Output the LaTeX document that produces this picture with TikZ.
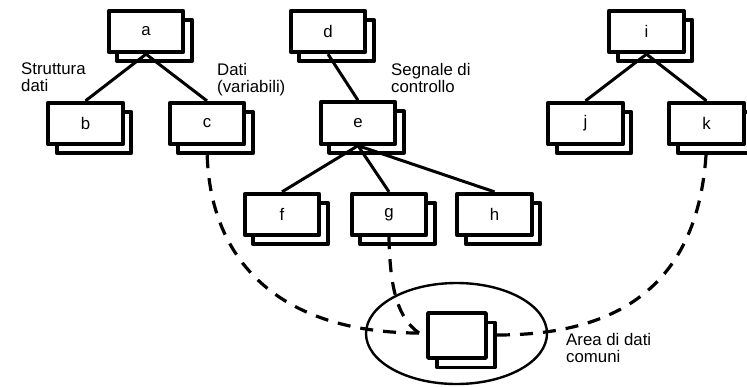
\documentclass[tikz,border=0pt]{standalone}
\usepackage{fontspec}
\setmainfont{Liberation Sans}
\usetikzlibrary{calc,shapes.geometric}
\tikzset{
  boxbase/.style={draw, line width=3.8pt, fill=white, line join=round, inner sep=0pt,
    minimum width=74.5pt, minimum height=41.5pt},
  frontbox/.style={boxbase, font=\fontsize{16.8}{17}\selectfont},
  backbox/.style={boxbase},
  link/.style={line width=3pt},
  dlink/.style={line width=3.2pt, dash pattern=on 13pt off 10pt},
  lbl/.style={anchor=north west, inner sep=0pt, align=left, font=\fontsize{16.8}{17}\selectfont},
}
\newcommand\stackbox[3]{%
  \node[backbox] (#1b) at ($(#2)+(8.5,9)$) {};
  \node[frontbox] (#1) at (#2) {#3};}
\begin{document}
\begin{tikzpicture}[x=1pt,y=-1pt]
\useasboundingbox (0,0) rectangle (747,386);
% boxes
\stackbox{a}{146,31.5}{a}
\stackbox{b}{85.5,123.5}{b}
\stackbox{c}{207,123.5}{c}
\stackbox{d}{328,31.5}{d}
\stackbox{e}{358,123}{e}
\stackbox{f}{282,214.5}{f}
\stackbox{g}{389,214.5}{g}
\stackbox{h}{494.5,214.5}{h}
\stackbox{i}{646.5,31.5}{i}
\stackbox{j}{585.5,123.5}{j}
\stackbox{k}{706.5,123.5}{k}
% links
\draw[link] (a.south) -- (b.north);
\draw[link] (a.south) -- (c.north);
\draw[link] (d.south) -- (e.north);
\draw[link] (e.south) -- (f.north);
\draw[link] (e.south) -- (g.north);
\draw[link] (e.south) -- (h.north);
\draw[link] (i.south) -- (j.north);
\draw[link] (i.south) -- (k.north);
% common data area
\node[draw, line width=2.4pt, ellipse, minimum width=181pt, minimum height=101pt, inner sep=0pt] (area) at (456.5,333.5) {};
\node[boxbase, minimum width=58pt, minimum height=45pt] (sb) at (466,345) {};
\node[boxbase, minimum width=58pt, minimum height=45pt] (s) at (457,335.5) {};
\coordinate (tip) at (419,333);
\coordinate (kend) at (497,335);
% dashed connectors (drawn from their ends so that a dash meets the box)
\draw[dlink] (tip) .. controls (290,333) and (207,270) .. (c.south);
\draw[dlink] (tip) .. controls (398,318) and (390,290) .. (g.south);
\draw[dlink] (kend) .. controls (600,335) and (700,300) .. (k.south);
% labels
\node[lbl] (l1) at (21,63) {Struttura\\dati};
\node[lbl] (l2) at (217,63) {Dati\\(variabili)};
\node[lbl] (l3) at (391,63) {Segnale di\\controllo};
\node[lbl] (l4) at (566,333) {Area di dati\\comuni};
\end{tikzpicture}
\end{document}
